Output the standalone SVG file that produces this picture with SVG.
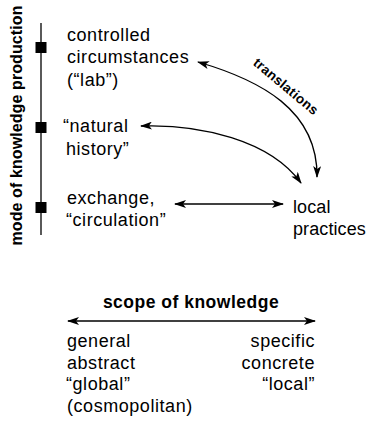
<svg xmlns="http://www.w3.org/2000/svg" width="369" height="422" viewBox="0 0 369 422">
<defs>
<marker id="ah" viewBox="0 0 12 8" refX="11" refY="4" markerWidth="12" markerHeight="8" markerUnits="userSpaceOnUse" orient="auto-start-reverse">
<path d="M0,0 L12,4 L0,8 L3,4 Z" fill="#000"/>
</marker>
<style>
text{font-family:"Liberation Sans",Arial,sans-serif;fill:#000}
.t{font-size:18px;letter-spacing:0.55px}
.n{letter-spacing:0.1px}
.b{font-weight:bold}
.c{fill:none;stroke:#000;stroke-width:1.3}
</style>
</defs>
<rect width="369" height="422" fill="#fff"/>
<g id="axis">
<line x1="41" y1="23" x2="41" y2="235" stroke="#000" stroke-width="1.3"/>
<rect x="35.5" y="42" width="11" height="11"/>
<rect x="35.5" y="122" width="11" height="11"/>
<rect x="35.5" y="202" width="11" height="11"/>
<text class="b" font-size="16" letter-spacing="0.1" text-anchor="middle" transform="translate(22,125.5) rotate(-90)">mode of knowledge production</text>
</g>
<g id="lab"><text class="t"><tspan x="67" y="40.5">controlled</tspan><tspan x="67" y="63">circumstances</tspan><tspan x="67" y="85.5">(“lab”)</tspan></text></g>
<g id="natural"><text class="t"><tspan x="63" y="132">“natural</tspan><tspan x="66" y="154.5">history”</tspan></text></g>
<g id="exchange"><text class="t"><tspan x="67" y="204">exchange,</tspan><tspan x="66" y="226">“circulation”</tspan></text></g>
<g id="local"><text class="t n"><tspan x="293" y="213">local</tspan><tspan x="293" y="235">practices</tspan></text></g>
<g id="scope">
<text class="b" font-size="17.5" letter-spacing="0.5" x="191" y="308" text-anchor="middle">scope of knowledge</text>
<text class="t"><tspan x="67" y="347">general</tspan><tspan x="67" y="368.5">abstract</tspan><tspan x="66" y="390">“global”</tspan><tspan x="67" y="411.5">(cosmopolitan)</tspan></text>
<text class="t" text-anchor="end"><tspan x="315" y="347">specific</tspan><tspan x="315" y="368.5">concrete</tspan><tspan x="315" y="390">“local”</tspan></text>
</g>
<g id="connectors">
<path class="c" d="M198,62 C260,80 318,110 317,177" marker-start="url(#ah)" marker-end="url(#ah)"/>
<path class="c" d="M141,126 C200,124 270,140 301,183" marker-start="url(#ah)" marker-end="url(#ah)"/>
<line class="c" x1="175" y1="204" x2="283" y2="204" marker-start="url(#ah)" marker-end="url(#ah)"/>
<line class="c" x1="68" y1="321" x2="315" y2="321" marker-start="url(#ah)" marker-end="url(#ah)"/>
<text class="b" font-size="13.5" letter-spacing="0.3" text-anchor="middle" transform="translate(283,90) rotate(40)">translations</text>
</g>
</svg>
